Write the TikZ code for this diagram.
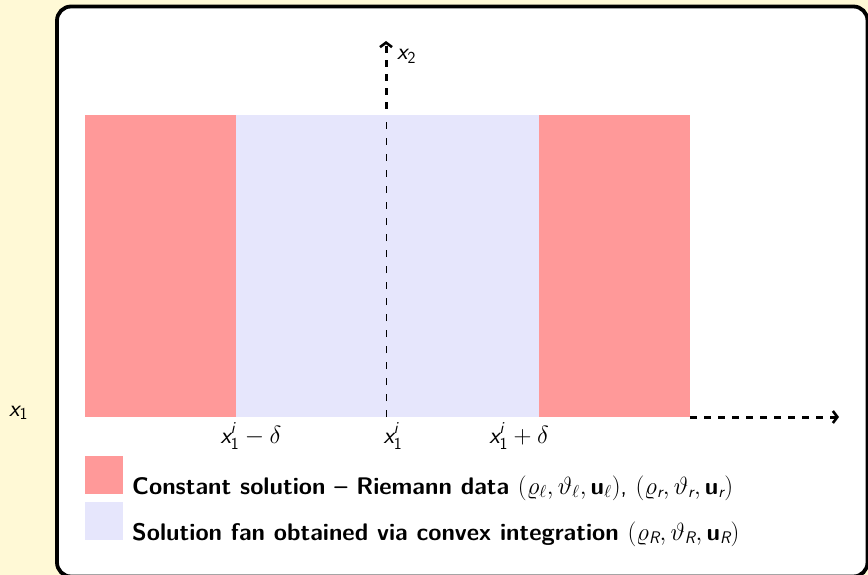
\documentclass[tikz,border=0pt]{standalone}
\usepackage{amsmath}
\usetikzlibrary{arrows.meta}
\definecolor{bgyellow}{RGB}{255,249,214}
\definecolor{redfill}{RGB}{255,153,153}
\definecolor{lavfill}{RGB}{230,230,252}
\newcommand\sfi[1]{\textsf{\mdseries\itshape #1}}
\newcommand\sfu[1]{\textsf{\mdseries\upshape #1}}
\newcommand\sfb[1]{\textsf{\bfseries\upshape #1}}
\begin{document}
\begin{tikzpicture}[x=1pt,y=-1pt,
  bigfont/.style={font=\fontsize{24}{28}\selectfont},
  axisarrow/.style={line width=3pt, dash pattern=on 7pt off 7pt, -{Straight Barb[length=4.5pt,width=12pt,line width=2.6pt]}},
  thinaxis/.style={line width=1pt, dash pattern=on 7pt off 9pt},
  lbl/.style={bigfont, inner sep=0pt},
  legtext/.style={font=\fontsize{24}{28}\selectfont\sffamily\bfseries, inner sep=0pt, anchor=base west},
  legbox/.style={inner sep=0pt, minimum width=38pt, minimum height=38pt, anchor=north west}]
\fill[bgyellow] (0,0) rectangle (868,575);
\useasboundingbox (0,0) rectangle (868,575);
\draw[line width=3.8pt, rounded corners=14pt, fill=white] (57,6.5) rectangle (867.5,576.5);
% axes
\coordinate (O) at (386,417);
\coordinate (X1) at (839,417);
\coordinate (X2) at (386,41);
\coordinate (Xs) at (690,417);
\draw[axisarrow] (Xs) -- (X1);
\draw[axisarrow] (O) -- (X2);
% regions
\fill[redfill] (85,115) rectangle (236,417);
\fill[lavfill] (236,115) rectangle (539,417);
\fill[redfill] (539,115) rectangle (690,417);
\coordinate (Otop) at (386,115);
\draw[thinaxis] (O) -- (Otop);
% axis labels
\node[lbl, anchor=base west] (lx2) at (397,60) {$\sfi{x}_{\sfu{2}}$};
\node[lbl, anchor=base west] (lx1) at (9,416) {$\sfi{x}_{\sfu{1}}$};
% tick labels
\node[lbl, anchor=base] (t1) at (251,443) {$\sfi{x}_{\sfu{1}}^{\sfi{i}}-\delta$};
\node[lbl, anchor=base] (t2) at (393,443) {$\sfi{x}_{\sfu{1}}^{\sfi{i}}$};
\node[lbl, anchor=base] (t3) at (519,443) {$\sfi{x}_{\sfu{1}}^{\sfi{i}}+\delta$};
% legend
\node[legbox, fill=redfill] (lb1) at (85,456) {};
\node[legbox, fill=lavfill] (lb2) at (85,502) {};
\node[legtext] (lt1) at (132,494) {Constant solution -- Riemann data $(\varrho_\ell,\vartheta_\ell,\sfb{u}_\ell)${\mdseries,} $(\varrho_{\sfi{r}},\vartheta_{\sfi{r}},\sfb{u}_{\sfi{r}})$};
\node[legtext] (lt2) at (132,540) {Solution fan obtained via convex integration $(\varrho_{\sfi{R}},\vartheta_{\sfi{R}},\sfb{u}_{\sfi{R}})$};
\end{tikzpicture}
\end{document}
